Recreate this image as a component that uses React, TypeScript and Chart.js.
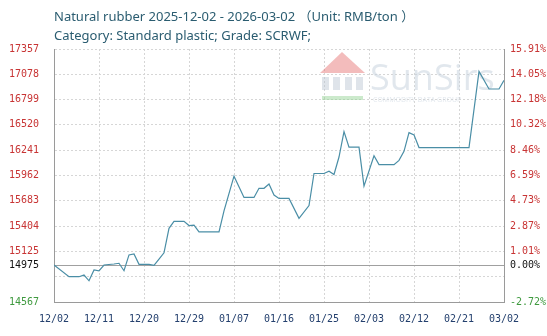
import React, { useEffect, useRef } from 'react';
import { Chart, registerables } from 'chart.js';

Chart.register(...registerables);

// ---- data ----
const startDate = '2025-12-02';
const dates = [
  '2025-12-02', '2025-12-05', '2025-12-07', '2025-12-08', '2025-12-09', '2025-12-10', '2025-12-11', '2025-12-12',
  '2025-12-14', '2025-12-15', '2025-12-16', '2025-12-17', '2025-12-18', '2025-12-19', '2025-12-21', '2025-12-22',
  '2025-12-23', '2025-12-24', '2025-12-25', '2025-12-26', '2025-12-28', '2025-12-29', '2025-12-30', '2025-12-31',
  '2026-01-04', '2026-01-05', '2026-01-07', '2026-01-09', '2026-01-11', '2026-01-12', '2026-01-13', '2026-01-14',
  '2026-01-15', '2026-01-16', '2026-01-18', '2026-01-20', '2026-01-22', '2026-01-23', '2026-01-25', '2026-01-26',
  '2026-01-27', '2026-01-28', '2026-01-29', '2026-01-30', '2026-02-01', '2026-02-02', '2026-02-04', '2026-02-05',
  '2026-02-08', '2026-02-09', '2026-02-10', '2026-02-11', '2026-02-12', '2026-02-13', '2026-02-23', '2026-02-25',
  '2026-02-27', '2026-03-01', '2026-03-02',
];
const prices = [
  14975, 14846, 14846, 14864, 14801, 14920, 14910, 14975,
  14986, 14994, 14912, 15086, 15097, 14982, 14982, 14970,
  15040, 15110, 15380, 15456, 15456, 15410, 15415, 15341,
  15341, 15571, 15955, 15720, 15720, 15821, 15821, 15869,
  15746, 15709, 15709, 15490, 15630, 15984, 15984, 16009,
  15973, 16166, 16446, 16275, 16275, 15845, 16180, 16082,
  16082, 16129, 16228, 16435, 16410, 16270, 16270, 17110,
  16916, 16916, 17011,
];
const basePrice = 14975;
const xTickLabels = ['12/02', '12/11', '12/20', '12/29', '01/07', '01/16', '01/25', '02/03', '02/12', '02/21', '03/02'];
const xTickDates = [
  '2025-12-02', '2025-12-11', '2025-12-20', '2025-12-29', '2026-01-07', '2026-01-16',
  '2026-01-25', '2026-02-03', '2026-02-12', '2026-02-21', '2026-03-02',
];
const yTickValues = [14567, 14846, 14975, 15125, 15404, 15683, 15962, 16241, 16520, 16799, 17078, 17357];
const yTickLabels = ['14567', '', '14975', '15125', '15404', '15683', '15962', '16241', '16520', '16799', '17078', '17357'];
const pctTickLabels = ['-2.72%', '', '0.00%', '1.01%', '2.87%', '4.73%', '6.59%', '8.46%', '10.32%', '12.18%', '14.05%', '15.91%'];

const titleLine1 = 'Natural rubber 2025-12-02 - 2026-03-02 （Unit: RMB/ton ）';
const titleLine2 = 'Category: Standard plastic; Grade: SCRWF;';

const dayOf = (d: string) =>
  Math.round((Date.parse(d + 'T00:00:00Z') - Date.parse(startDate + 'T00:00:00Z')) / 86400000);

const W = 547;
const H = 336;
const MONO = '"DejaVu Sans Mono", monospace';
const RED = '#c83434';
const GREEN = '#3f9a3f';

const labelColor = (v: number) => (v === basePrice ? '#111111' : v < basePrice ? GREEN : RED);

const watermark = {
  id: 'watermark',
  beforeDatasetsDraw(chart: any) {
    const ctx = chart.ctx as CanvasRenderingContext2D;
    ctx.save();
    ctx.globalAlpha = 0.45;
    ctx.fillStyle = '#e46a6a';
    ctx.beginPath();
    ctx.moveTo(320, 73);
    ctx.lineTo(342, 52);
    ctx.lineTo(365, 73);
    ctx.closePath();
    ctx.fill();
    ctx.fillStyle = '#b9c4d0';
    ctx.fillRect(322, 77, 7, 13);
    ctx.fillRect(333, 77, 7, 13);
    ctx.fillRect(345, 77, 7, 13);
    ctx.fillRect(356, 77, 7, 13);
    ctx.fillStyle = '#8fd08f';
    ctx.fillRect(322, 96, 41, 4);
    ctx.globalAlpha = 0.55;
    ctx.fillStyle = '#c9d3de';
    ctx.font = '36px "Open Sans", sans-serif';
    ctx.textBaseline = 'alphabetic';
    ctx.fillText('SunSirs', 370, 90);
    ctx.font = '7px "Open Sans", sans-serif';
    ctx.fillText('COMMODITY DATA GROUP', 373, 102);
    ctx.restore();
  },
};

export default function App() {
  const ref = useRef<HTMLCanvasElement | null>(null);

  useEffect(() => {
    document.body.style.margin = '0';
    const canvas = ref.current;
    if (!canvas) return;
    const points = dates.map((d, i) => ({ x: dayOf(d), y: prices[i] }));
    const xTickDays = xTickDates.map(dayOf);
    const yMin = yTickValues[0];
    const yMax = yTickValues[yTickValues.length - 1];

    const chart = new Chart(canvas, {
      type: 'line',
      data: {
        datasets: [
          {
            data: points,
            borderColor: '#4a8ea6',
            borderWidth: 1.2,
            pointRadius: 0,
            tension: 0,
            fill: false,
          },
        ],
      },
      options: {
        animation: false,
        responsive: false,
        devicePixelRatio: 1,
        events: [],
        layout: { padding: { top: 49, left: 0, right: 0, bottom: 0 } },
        plugins: { legend: { display: false }, tooltip: { enabled: false }, title: { display: false } },
        scales: {
          x: {
            type: 'linear',
            position: 'bottom',
            min: xTickDays[0],
            max: xTickDays[xTickDays.length - 1],
            afterBuildTicks: (s: any) => {
              s.ticks = xTickDays.map((v) => ({ value: v }));
            },
            afterFit: (s: any) => {
              s.height = 34;
            },
            ticks: {
              autoSkip: false,
              maxRotation: 0,
              padding: 11,
              color: '#24406e',
              font: { family: MONO, size: 10 },
              callback: (v: any) => {
                const i = xTickDays.indexOf(Number(v));
                return i >= 0 ? xTickLabels[i] : '';
              },
            },
            grid: { color: '#d6d6d6', lineWidth: 1, drawTicks: false },
            border: { display: true, color: '#9a9a9a', width: 1, dash: [2, 2] },
          },
          y: {
            type: 'linear',
            position: 'left',
            min: yMin,
            max: yMax,
            afterBuildTicks: (s: any) => {
              s.ticks = yTickValues.map((v) => ({ value: v }));
            },
            afterFit: (s: any) => {
              s.width = 54;
            },
            ticks: {
              autoSkip: false,
              padding: 15,
              font: { family: MONO, size: 10 },
              color: (c: any) => labelColor(c.tick ? c.tick.value : 0),
              callback: (v: any) => {
                const i = yTickValues.indexOf(Number(v));
                return i >= 0 ? yTickLabels[i] : '';
              },
            },
            grid: {
              drawTicks: false,
              lineWidth: 1,
              color: (c: any) => (c.tick && c.tick.value === basePrice ? '#a0a0a0' : '#d6d6d6'),
            },
            border: {
              display: true,
              color: '#9a9a9a',
              width: 1,
              dash: (c: any) => (c.tick && c.tick.value === basePrice ? [] : [2, 2]),
            },
          },
          y2: {
            type: 'linear',
            position: 'right',
            min: yMin,
            max: yMax,
            afterBuildTicks: (s: any) => {
              s.ticks = yTickValues.map((v) => ({ value: v }));
            },
            afterFit: (s: any) => {
              s.width = 43;
            },
            ticks: {
              autoSkip: false,
              padding: 6,
              font: { family: MONO, size: 10 },
              color: (c: any) => labelColor(c.tick ? c.tick.value : 0),
              callback: (v: any) => {
                const i = yTickValues.indexOf(Number(v));
                return i >= 0 ? pctTickLabels[i] : '';
              },
            },
            grid: { display: false, drawTicks: false },
            border: { display: true, color: '#9a9a9a', width: 1 },
          },
        },
      },
      plugins: [watermark],
    } as any);

    return () => chart.destroy();
  }, []);

  const titleStyle: React.CSSProperties = {
    position: 'absolute',
    left: 54,
    fontFamily: '"Noto Sans", "Noto Sans CJK SC", sans-serif',
    fontSize: 13,
    color: '#2a5c70',
    whiteSpace: 'pre',
    lineHeight: '16px',
  };

  return (
    <div style={{ position: 'relative', width: W, height: H, background: '#ffffff', overflow: 'hidden' }}>
      <canvas ref={ref} width={W} height={H} style={{ position: 'absolute', left: 0, top: 0, width: W, height: H }} />
      <div style={{ ...titleStyle, top: 8 }}>{titleLine1}</div>
      <div style={{ ...titleStyle, top: 27 }}>{titleLine2}</div>
    </div>
  );
}
